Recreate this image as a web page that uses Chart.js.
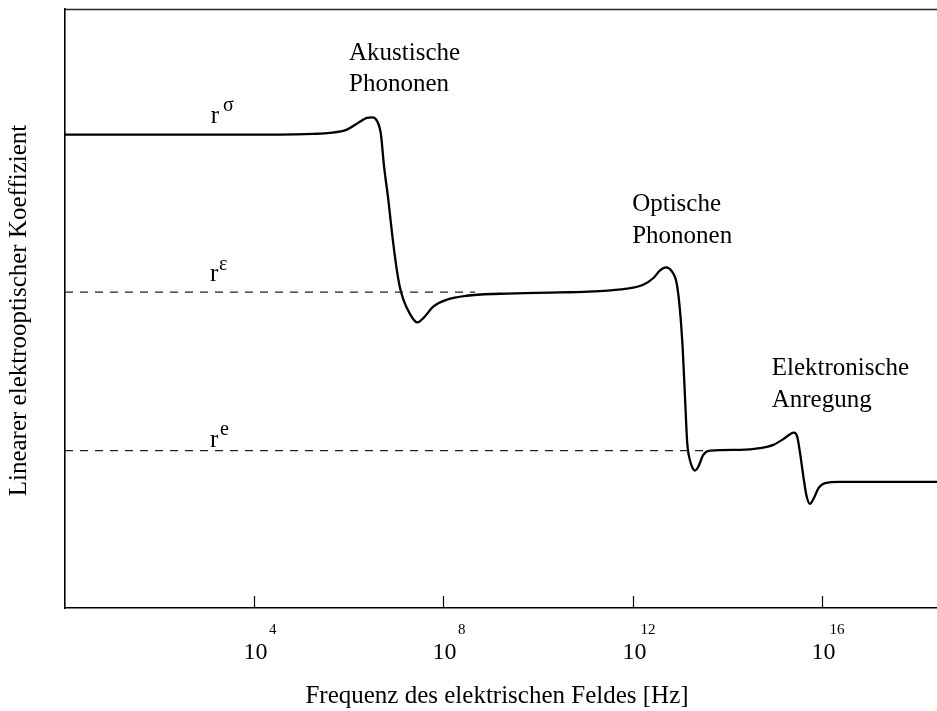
<!DOCTYPE html>
<html>
<head>
<meta charset="utf-8">
<script src="https://cdn.jsdelivr.net/npm/chart.js@4/dist/chart.umd.min.js"></script>
<style>
  html, body { margin: 0; padding: 0; background: #fff; }
  #wrap { width: 937px; height: 711px; position: relative; }
</style>
</head>
<body>
<div id="wrap"><canvas id="c"></canvas></div>
<script>
// Frequency as log10(f / Hz)
const logFreq = [
  0, 2, 4.545, 5.25, 5.60, 5.96, 6.20, 6.38, 6.505, 6.60, 6.675, 6.745, 6.835, 6.913,
  7.004, 7.076, 7.156, 7.283, 7.448, 7.575, 7.79, 8.07, 8.49, 9.20, 10.465, 11.17, 11.875,
  12.225, 12.44, 12.58, 12.705, 12.83, 12.93, 13.00, 13.06, 13.11, 13.155, 13.21,
  13.27, 13.32, 13.39, 13.495, 13.64, 14.27, 14.69, 14.975, 15.185, 15.33, 15.41,
  15.48, 15.54, 15.61, 15.68, 15.75, 15.83, 15.93, 16.07, 16.38, 17.23, 18.435
];
// Linear electro-optic coefficient (arbitrary units)
const coeff = [
  79.03, 79.03, 79.03, 79.15, 79.31, 79.87, 80.99, 81.82, 81.92, 81.25, 79.31, 73.73,
  68.17, 62.61, 57.03, 53.68, 51.46, 49.24, 47.67, 48.40, 50.34, 51.46, 52.13, 52.46,
  52.68, 52.85, 53.30, 53.97, 55.09, 56.36, 56.86, 56.19, 54.25, 49.79, 43.11, 34.75,
  27.52, 24.73, 23.34, 22.94, 23.61, 25.56, 26.28, 26.40, 26.68, 27.23, 28.19, 29.02,
  29.29, 28.62, 25.85, 21.94, 18.60, 17.38, 18.33, 20.00, 20.84, 21.05, 21.05, 21.05
];
// Reference levels r^ε and r^e (dashed)
const epsLineX = [0, 8.67];
const epsLineY = [52.72, 52.72];
const elecLineX = [0, 13.7];
const elecLineY = [26.28, 26.28];

// Decade tick exponents on the frequency axis
const tickExponents = [4, 8, 12, 16];
const tickBase = '10';

// Axis titles
const xTitle = 'Frequenz des elektrischen Feldes [Hz]';
const yTitle = 'Linearer elektrooptischer Koeffizient';

// Region labels, anchored in data coordinates (left edge, baseline)
const regionLabels = [
  { lines: ['Akustische', 'Phononen'], x: 6.004, y: [91.56, 86.27] },
  { lines: ['Optische', 'Phononen'], x: 11.99, y: [66.33, 60.99] },
  { lines: ['Elektronische', 'Anregung'], x: 14.94, y: [38.93, 33.63] }
];
// Coefficient symbols r with superscripts
const symbolLabels = [
  { base: 'r', sup: 'σ', x: 3.08, y: 80.99, supDx: 12.3 },
  { base: 'r', sup: 'ε', x: 3.066, y: 54.52, supDx: 9 },
  { base: 'r', sup: 'e', x: 3.066, y: 26.95, supDx: 10 }
];

const SERIF = "'Liberation Serif', 'Times New Roman', serif";

const toPoints = (xs, ys) => xs.map((x, i) => ({ x, y: ys[i] }));

const decorations = {
  id: 'decorations',
  afterDraw(chart) {
    const { ctx, chartArea } = chart;
    const xs = chart.scales.x, ys = chart.scales.y;
    ctx.save();
    // top frame line
    ctx.strokeStyle = '#222';
    ctx.lineWidth = 1.6;
    ctx.beginPath();
    ctx.moveTo(chartArea.left, chartArea.top + 0.5);
    ctx.lineTo(chartArea.right, chartArea.top + 0.5);
    ctx.stroke();

    // inward tick marks and tick labels 10^n
    ctx.fillStyle = '#000';
    ctx.strokeStyle = '#000';
    ctx.lineWidth = 1.2;
    tickExponents.forEach(e => {
      const px = Math.round(xs.getPixelForValue(e)) + 0.5;
      ctx.beginPath();
      ctx.moveTo(px, chartArea.bottom);
      ctx.lineTo(px, chartArea.bottom - 12);
      ctx.stroke();
      ctx.font = '24px ' + SERIF;
      ctx.textAlign = 'center';
      ctx.textBaseline = 'alphabetic';
      ctx.fillText(tickBase, px + 1, chartArea.bottom + 51);
      ctx.font = '15px ' + SERIF;
      ctx.textAlign = 'right';
      ctx.fillText(String(e), px + 22, chartArea.bottom + 26);
    });

    // axis titles
    ctx.font = '25px ' + SERIF;
    ctx.textAlign = 'center';
    ctx.fillText(xTitle, 497, 702.5);
    ctx.save();
    ctx.translate(26, (chartArea.top + chartArea.bottom) / 2 + 2);
    ctx.rotate(-Math.PI / 2);
    ctx.fillText(yTitle, 0, 0);
    ctx.restore();

    // region labels
    ctx.textAlign = 'left';
    regionLabels.forEach(l => {
      const px = xs.getPixelForValue(l.x);
      l.lines.forEach((t, i) => ctx.fillText(t, px, ys.getPixelForValue(l.y[i])));
    });

    // r symbols with superscripts
    symbolLabels.forEach(s => {
      const px = xs.getPixelForValue(s.x);
      const py = ys.getPixelForValue(s.y);
      ctx.font = '25px ' + SERIF;
      ctx.fillText(s.base, px, py);
      ctx.font = '20px ' + SERIF;
      ctx.fillText(s.sup, px + s.supDx, py - 11.7);
    });
    ctx.restore();
  }
};

new Chart(document.getElementById('c'), {
  type: 'scatter',
  data: {
    datasets: [
      {
        data: toPoints(epsLineX, epsLineY),
        showLine: true, borderColor: '#222', borderWidth: 1.2,
        borderDash: [8, 7], pointRadius: 0
      },
      {
        data: toPoints(elecLineX, elecLineY),
        showLine: true, borderColor: '#222', borderWidth: 1.2,
        borderDash: [8, 7], pointRadius: 0
      },
      {
        data: toPoints(logFreq, coeff),
        showLine: true, borderColor: '#000', borderWidth: 2.3,
        cubicInterpolationMode: 'monotone', pointRadius: 0
      }
    ]
  },
  options: {
    responsive: true,
    maintainAspectRatio: false,
    animation: false,
    events: [],
    layout: { padding: { top: 9, left: 0, right: 0, bottom: 0 } },
    plugins: { legend: { display: false }, tooltip: { enabled: false } },
    scales: {
      x: {
        type: 'linear', min: 0, max: 18.435,
        grid: { display: false, drawTicks: false },
        border: { display: true, color: '#000', width: 1.6 },
        ticks: { display: false },
        afterFit(scale) { scale.height = 103; }
      },
      y: {
        type: 'linear', min: 0, max: 100,
        grid: { display: false, drawTicks: false },
        border: { display: true, color: '#000', width: 1.6 },
        ticks: { display: false },
        afterFit(scale) { scale.width = 65; }
      }
    }
  },
  plugins: [decorations]
});
</script>
</body>
</html>
